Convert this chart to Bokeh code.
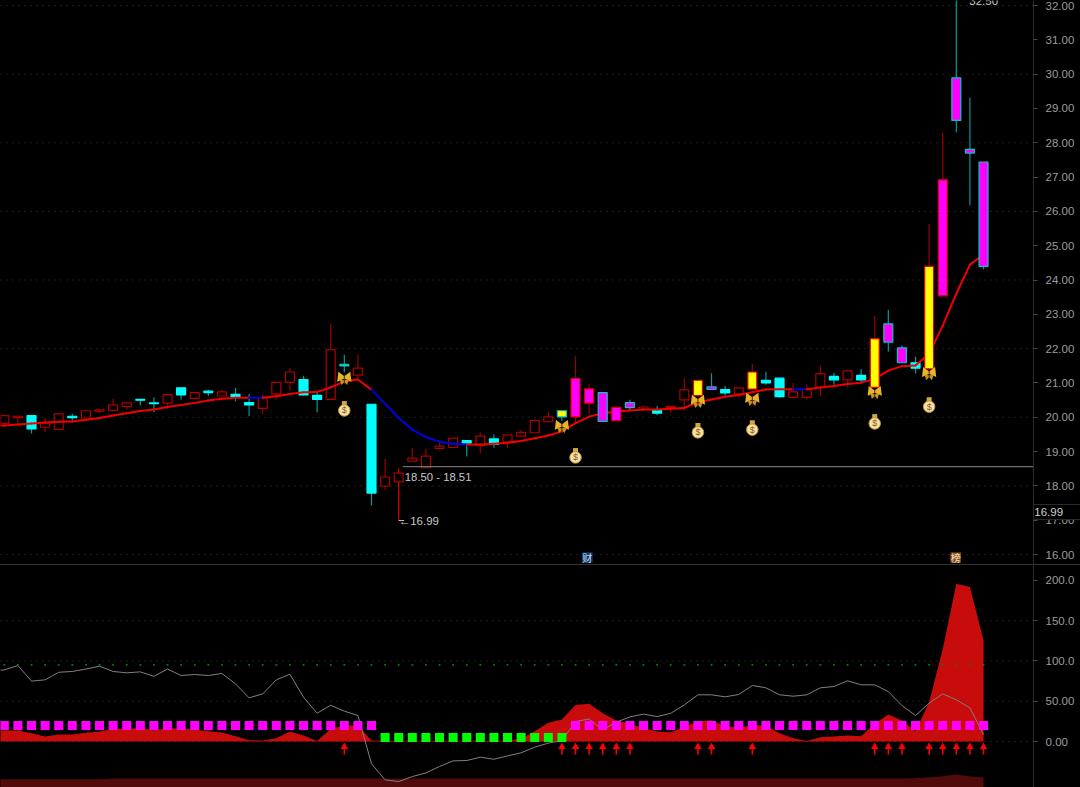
from bokeh.embed import file_html
from bokeh.resources import INLINE
from bokeh.plotting import figure
from bokeh.layouts import column
from bokeh.models import Range1d, FixedTicker, ColumnDataSource, Div
from bokeh.core.properties import value

# ---------- price panel data (one entry per session) ----------
body_top = [20.05,20.03,20.05,19.83,20.10,20.03,20.19,20.22,20.36,20.42,20.52,20.42,20.66,20.86,20.72,20.76,20.74,20.67,20.43,20.57,
            21.02,21.32,21.10,20.64,21.97,21.54,21.43,20.38,18.26,18.37,18.81,18.87,19.16,19.39,19.32,19.45,19.37,19.49,19.56,19.90,
            20.01,20.19,21.13,20.83,20.72,20.29,20.43,20.30,20.22,20.32,20.80,21.08,20.89,20.81,20.86,21.32,21.08,21.14,20.74,20.82,
            21.27,21.19,21.35,21.22,22.29,22.72,22.02,21.59,24.40,26.92,29.89,27.81,27.44]
body_bot = [19.82,19.99,19.66,19.71,19.65,19.99,19.98,20.18,20.20,20.31,20.50,20.40,20.41,20.65,20.55,20.72,20.62,20.58,20.36,20.26,
            20.68,21.02,20.65,20.52,20.52,21.50,21.23,17.79,17.99,18.12,18.72,18.53,19.09,19.12,19.25,19.18,19.21,19.28,19.45,19.55,
            19.87,20.01,20.01,20.41,19.88,19.90,20.28,20.23,20.12,20.28,20.51,20.63,20.81,20.71,20.68,20.82,21.00,20.60,20.58,20.58,
            20.87,21.09,21.09,21.09,20.87,22.19,21.59,21.43,21.41,23.54,28.65,27.70,24.40]
highs = [20.05,20.03,20.05,19.98,20.10,20.10,20.21,20.22,20.54,20.44,20.52,20.58,20.66,20.86,20.72,20.80,20.80,20.86,20.68,20.66,
         21.02,21.43,21.21,20.76,22.72,21.82,21.82,20.38,18.79,18.50,19.11,19.08,19.27,19.39,19.32,19.56,19.50,19.49,19.63,19.95,
         20.17,20.19,21.78,20.97,20.72,20.29,20.51,20.34,20.33,20.32,21.14,21.08,21.28,20.92,20.86,21.56,21.33,21.14,21.00,20.95,
         21.51,21.30,21.35,21.41,22.96,23.13,22.09,21.77,25.64,28.29,32.50,29.31,27.44]
lows = [19.82,19.82,19.53,19.57,19.65,19.90,19.98,20.12,20.20,20.22,20.34,20.15,20.25,20.52,20.55,20.62,20.62,20.47,20.03,20.12,
        20.52,20.78,20.63,20.15,20.52,21.31,21.13,17.43,17.89,16.99,18.72,18.53,19.06,19.12,18.86,18.95,19.11,19.11,19.45,19.55,
        19.85,19.90,19.85,20.10,19.88,19.90,20.22,20.23,20.06,20.15,20.20,20.60,20.81,20.63,20.57,20.82,20.95,20.57,20.58,20.51,
        20.61,20.95,20.87,21.02,20.87,21.92,21.59,21.27,21.41,23.54,28.31,26.18,24.31]
kinds = ["h","h","c","h","h","c","h","h","h","h","c","c","h","c","h","c","h","c","c","h",
         "h","h","c","c","h","yc","h","c","h","h","h","h","h","h","c","h","c","h","h","h",
         "h","yc","mr","mr","mc","mr","mc","h","c","h","h","yr","mc","c","h","yr","c","c","h","h",
         "h","c","h","c","yr","mc","mc","c","yr","mr","mc","mc","mc"]
# series below start one session earlier (index -1, just off the left edge)
ma = [19.74,19.76,19.79,19.82,19.85,19.87,19.88,19.93,19.98,20.05,20.12,20.18,20.23,20.30,20.36,20.42,20.49,20.54,20.57,20.57,20.57,
      20.61,20.68,20.73,20.74,20.87,21.04,21.10,20.80,20.39,19.98,19.64,19.42,19.29,19.23,19.21,19.21,19.23,19.26,19.31,19.39,
      19.47,19.59,19.83,20.02,20.12,20.17,20.20,20.23,20.23,20.25,20.27,20.44,20.52,20.60,20.65,20.73,20.81,20.82,20.82,20.82,
      20.87,20.91,20.97,21.01,21.12,21.36,21.49,21.51,21.85,22.67,23.60,24.45,24.74]
ma_falling = [18,27,28,29,30,31,32,33,58]
butterfly_idx = [25,41,51,55,64,68]
butterfly_price = [21.13,19.73,20.46,20.52,20.72,21.27]
bag_idx = [25,42,51,55,64,68]
bag_price = [20.23,18.86,19.59,19.67,19.85,20.34]
support_price = 18.56
price_ticks = list(range(16,33))
price_grid = [16,18,20,22,24,26,28,30,32]
bright_wick = [29]
last_box_top = 17.46
last_box_bottom = 17.02
last_box_text_y = 17.25

# ---------- indicator panel data ----------
red_area = [13.5,13.7,13.7,10.4,6.2,8.7,8.7,10.8,12.4,15.7,16.1,16.6,14.0,16.6,16.1,14.5,12.8,11.2,6.6,1.7,1.2,
            4.1,12.4,7.5,0.8,15.7,19.9,19.9,1.2,1.0,1.0,1.0,1.0,1.0,1.0,1.0,1.0,1.0,1.2,3.3,12.8,
            23.2,27.3,45.5,46.8,35.2,26.0,22.0,16.6,12.4,11.6,17.8,25.3,26.0,19.0,17.8,20.0,20.0,10.4,4.1,0.8,
            5.4,6.2,7.5,6.6,22.0,33.5,26.0,12.8,48.9,115.0,196.0,192.0,125.5]
grey_line = [87.0,89.0,94.4,75.0,76.6,86.0,87.0,90.0,93.6,87.0,85.3,86.5,81.0,90.0,82.0,83.2,82.0,84.5,71.6,54.2,59.2,
             76.6,83.6,55.0,35.2,45.0,37.7,32.3,-27.7,-47.6,-49.7,-43.5,-39.0,-31.0,-24.0,-23.6,-19.5,-22.0,-17.8,-14.0,-7.0,
             -2.0,1.2,24.8,28.0,14.5,24.0,30.6,34.0,31.0,35.0,45.5,58.0,58.0,55.5,58.4,69.6,66.7,58.0,56.3,58.0,
             66.7,68.3,75.4,70.4,70.4,62.0,44.7,32.3,47.6,59.2,51.8,41.8,8.7]
dark_area = [-47,-47,-47,-47,-47,-47,-47,-47,-47,-46,-46,-46,-46,-46,-46,-46,-46,-46,-46,-46,-46,
             -46,-46,-46,-46,-46,-46,-46,-46,-46,-46,-46,-46,-46,-46,-46,-46,-46,-46,-46,-46,
             -46,-46,-46,-46,-46,-46,-46,-46,-46,-46,-46,-46,-46,-46,-46,-46,-46,-46,-46,-46,
             -46,-46,-46,-46,-46,-46,-46,-45.5,-44.3,-43,-41,-43.5,-44.7]
green_dots = [95.3]*73
signal_up = list(range(0,28)) + list(range(42,73))
signal_down = list(range(28,42))
signal_up_value = 20
signal_down_value = 5
arrow_idx = [25,41,42,43,44,45,46,51,52,55,64,65,66,68,69,70,71,72]
sub_ticks = [200,150,100,50,0]
sub_grid = [150,100,50,0]
sub_labels = {200:"200.0",150:"150.0",100:"100.0",50:"50.00",0:"0.00"}

idx = list(range(len(body_top)))
lead_idx = [-1] + idx
FONT = "Liberation Sans"
AXC = "#9c9c9c"
LINEC = "#2c2c2c"
X_LEFT = -0.28
X_AXIS = 75.68      # session position of the vertical price axis
X_RIGHT = 79.13     # right edge of the picture

def base(height, yr, grid_levels):
    p = figure(width=1080, height=height, x_range=Range1d(X_LEFT, X_RIGHT), y_range=Range1d(*yr),
               output_backend="svg", toolbar_location=None, y_axis_location="right",
               background_fill_color="#000000", border_fill_color="#000000",
               min_border_left=0, min_border_top=0, min_border_bottom=0, min_border_right=0,
               outline_line_color=None)
    p.xaxis.visible = False
    p.xgrid.visible = False
    p.ygrid.visible = False
    ax = p.yaxis[0]
    ax.fixed_location = X_AXIS
    ax.axis_line_color = LINEC
    ax.major_tick_line_color = "#4a4a4a"
    ax.major_tick_out = 4
    ax.major_tick_in = 0
    ax.minor_tick_line_color = None
    ax.major_label_standoff = 8
    ax.major_label_text_color = AXC
    ax.major_label_text_font = FONT
    ax.major_label_text_font_size = "11.5px"
    ax.major_label_text_align = "left"
    n = len(grid_levels)
    p.segment([X_LEFT]*n, grid_levels, [X_AXIS]*n, grid_levels, line_color="#3a3a3a",
              line_dash="1 5", line_width=1)
    return p

# ---------- price panel ----------
p1 = base(564, (15.71, 32.146), price_grid)
p1.yaxis[0].ticker = FixedTicker(ticks=price_ticks)
p1.yaxis[0].major_label_overrides = {t: f"{t}.00" for t in price_ticks}

UP_EDGE = "#b00000"
wick_col = [("#e80000" if i in bright_wick else "#9a0000") if kinds[i] in ("h","yr","mr") else "#009c9c" for i in idx]
fills = {"h":None,"c":"#00ffff","yr":"#ffff00","yc":"#ffff00","mr":"#ff00ff","mc":"#ff00ff"}
edges = {"h":UP_EDGE,"c":"#00ffff","yr":"#e00000","yc":"#00c8c8","mr":"#e00000","mc":"#00c8c8"}

p1.segment(idx, highs, idx, body_top, line_color=wick_col, line_width=1.2)
p1.segment(idx, body_bot, idx, lows, line_color=wick_col, line_width=1.2)

def bodies(keys):
    ii = [i for i in idx if kinds[i] in keys]
    src = ColumnDataSource(dict(
        x=ii, top=[body_top[i] for i in ii], bottom=[body_bot[i] for i in ii],
        line=[edges[kinds[i]] for i in ii],
        fill=[fills[kinds[i]] or "#000000" for i in ii],
        alpha=[0 if kinds[i]=="h" else 1 for i in ii]))
    p1.vbar(x="x", width=0.66, top="top", bottom="bottom", source=src,
            fill_color="fill", fill_alpha="alpha", line_color="line", line_width=1.2)

bodies(("h","c"))

ma_col = ["#0000e0" if i in ma_falling else "#f00000" for i in lead_idx[:-1]]
p1.segment(lead_idx[:-1], ma[:-1], lead_idx[1:], ma[1:], line_color=ma_col, line_width=2, line_cap="round")

bodies(("yr","yc","mr","mc"))

p1.segment([29.3], [support_price], [X_AXIS], [support_price], line_color="#8c8c8c", line_width=1)
p1.segment([29.0], [16.99], [29.4], [16.99], line_color="#c8c8c8", line_width=1)
p1.text([29.45], [18.27], text=["18.50 - 18.51"], text_color="#c8c8c8", text_font=value(FONT),
        text_font_size="11.3px", text_baseline="middle")
p1.text([29.0], [16.99], text=["←16.99"], text_color="#c8c8c8", text_font=value(FONT),
        text_font_size="11.5px", text_baseline="middle")
p1.text([70.95], [32.146], text=["32.50"], text_color="#c8c8c8", text_font=value(FONT),
        text_font_size="11.5px", text_baseline="middle")

# butterflies: rotated wings meeting at the body
up_l = [i-0.27 for i in butterfly_idx]
up_r = [i+0.27 for i in butterfly_idx]
lo_l = [i-0.15 for i in butterfly_idx]
lo_r = [i+0.15 for i in butterfly_idx]
p1.scatter(up_l, [v+0.04 for v in butterfly_price], marker="triangle", size=10, angle=2.5, fill_color="#e8b428", line_color=None)
p1.scatter(up_r, [v+0.04 for v in butterfly_price], marker="triangle", size=10, angle=-2.5, fill_color="#e8b428", line_color=None)
p1.scatter(lo_l, [v-0.09 for v in butterfly_price], marker="triangle", size=6, angle=0.8, fill_color="#c8921e", line_color=None)
p1.scatter(lo_r, [v-0.09 for v in butterfly_price], marker="triangle", size=6, angle=-0.8, fill_color="#c8921e", line_color=None)
p1.segment(butterfly_idx, [v+0.1 for v in butterfly_price], butterfly_idx, [v-0.15 for v in butterfly_price], line_color="#4a3008", line_width=1)

# money bags
p1.scatter(bag_idx, [v+0.17 for v in bag_price], marker="square", size=5, fill_color="#d8a840", line_color=None)
p1.scatter(bag_idx, [v-0.03 for v in bag_price], marker="circle", size=11.5, fill_color="#f4e4a8", line_color="#c89030", line_width=1)
p1.text(bag_idx, [v-0.03 for v in bag_price], text=["$"]*len(bag_idx), text_color="#8a5a20",
        text_font=value(FONT), text_font_size="9px", text_align="center", text_baseline="middle")

# tags
tag_y = 15.91
p1.scatter([42.87],[tag_y], marker="square", size=10.5, fill_color="#103c70", line_color=None)
p1.text([42.87],[tag_y], text=["财"], text_color="#c8d8e8", text_font=value("Noto Sans CJK SC"),
        text_font_size="10px", text_align="center", text_baseline="middle")
p1.scatter([69.95],[tag_y], marker="square", size=10.5, fill_color="#8a4a10", line_color=None)
p1.text([69.95],[tag_y], text=["榜"], text_color="#f0e0c8", text_font=value("Noto Sans CJK SC"),
        text_font_size="10px", text_align="center", text_baseline="middle")

# last-price box over the axis
p1.quad(left=[X_AXIS], right=[X_RIGHT+1], top=[last_box_top], bottom=[last_box_bottom],
        fill_color="#000000", line_color=LINEC, line_width=1, level="overlay")
p1.text([X_AXIS+0.05], [last_box_text_y], text=["16.99"], text_color="#d0d0d0", text_font=value(FONT),
        text_font_size="11.5px", text_baseline="middle", level="overlay")

# ---------- indicator panel ----------
p2 = base(222, (-57.1, 218.6), sub_grid)
p2.yaxis[0].ticker = FixedTicker(ticks=sub_ticks)
p2.yaxis[0].major_label_overrides = sub_labels

p2.varea(lead_idx, [-60]*len(lead_idx), dark_area, fill_color="#520b0b")
p2.varea(lead_idx, [0]*len(lead_idx), red_area, fill_color="#c80c0c")
p2.line(lead_idx, grey_line, line_color="#808080", line_width=1)
p2.scatter(idx, green_dots, marker="square", size=1.8, fill_color="#0a7a0a", line_color=None)
p2.scatter(signal_up, [signal_up_value]*len(signal_up), marker="square", size=9, fill_color="#ff00ff", line_color=None)
p2.scatter(signal_down, [signal_down_value]*len(signal_down), marker="square", size=9, fill_color="#00ff00", line_color=None)
p2.segment(arrow_idx, [-5]*len(arrow_idx), arrow_idx, [-16]*len(arrow_idx), line_color="#ff0000", line_width=1.6)
p2.scatter(arrow_idx, [-6.5]*len(arrow_idx), marker="triangle", size=7.5, fill_color="#ff0000", line_color=None)

sep = Div(text="", width=1080, height=1, margin=(0,0,0,0), styles={"background": "#333333"})
layout = column(p1, sep, p2, spacing=0, styles={"background": "#000000"})
open("out.html", "w").write(file_html(layout, INLINE))
